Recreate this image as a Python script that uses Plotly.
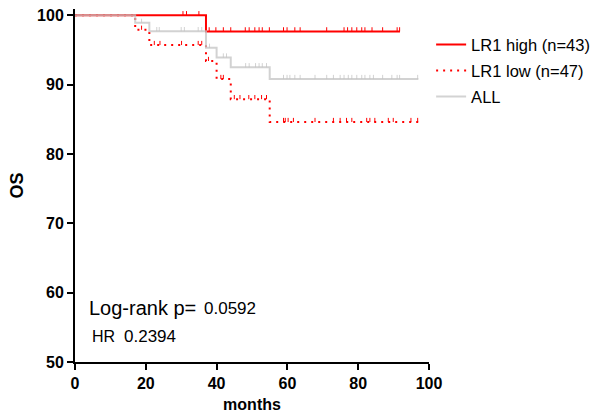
import numpy as np
import plotly.graph_objects as go

# ---- data ----
high_t = [0, 37, 91.8]
high_s = [100, 97.67, 97.67]
high_cens = [30.5, 31.5, 35, 37.9, 39.8, 41.9, 44.0, 48.1, 49.2, 50.8, 52.0, 52.9,
             54.9, 58.9, 59.9, 62.1, 63.6, 71.1, 76.0, 77.0, 78.2, 79.6, 81.0, 81.9,
             83.9, 86.9, 91.0, 91.7]

low_t = [0, 17, 21, 37, 40, 44, 55, 97]
low_s = [100, 97.9, 95.7, 93.4, 90.8, 87.9, 84.6, 84.6]
low_cens = [18.8, 22.4, 24.0, 30.1, 34.8, 35.8, 37.7, 41.2, 41.9, 45.0, 46.6, 49.1,
            50.8, 52.7, 54.1, 58.9, 59.4, 60.2, 61.7, 67.8, 73.0, 74.9, 76.7, 78.2,
            82.4, 83.3, 84.7, 88.5, 89.9, 94.9, 96.8]

all_t = [0, 17, 21, 37, 40, 44, 55, 97]
all_s = [100, 98.9, 97.7, 95.3, 93.9, 92.5, 90.8, 90.8]
all_cens = [18.8, 23.1, 23.8, 30.0, 30.9, 34.8, 35.8, 38.0, 41.9, 42.8, 48.2, 49.2,
            51.0, 52.0, 52.9, 54.1, 58.9, 59.9, 60.7, 62.1, 63.6, 67.8, 71.1, 73.0,
            74.9, 76.0, 77.2, 78.2, 79.6, 81.0, 81.9, 83.3, 84.3, 86.9, 89.5, 91.0,
            91.7, 96.8]

names = ["LR1 high (n=43)", "LR1 low (n=47)", "ALL"]
x_ticks = [0, 20, 40, 60, 80, 100]
y_ticks = [50, 60, 70, 80, 90, 100]

RED = "#ff0000"
GRAY = "#c4c4c4"
FONT = "Liberation Sans"


def step_value(t, s, q):
    idx = np.searchsorted(np.asarray(t), np.asarray(q), side="right") - 1
    return np.asarray(s)[idx]


fig = go.Figure()

series = [
    (names[0], high_t, high_s, high_cens, RED, "solid", 1.0),
    (names[1], low_t, low_s, low_cens, RED, "2px,5px", 1.0),
    (names[2], all_t, all_s, all_cens, GRAY, "solid", 0.75),
]

for i, (name, t, s, cens, color, dash, op) in enumerate(series):
    fig.add_trace(go.Scatter(
        x=t, y=s, mode="lines", name=name, legendgroup=f"g{i}",
        line=dict(color=color, width=2, dash=dash, shape="hv"),
        opacity=op,
    ))
    cy = step_value(t, s, cens)
    fig.add_trace(go.Scatter(
        x=cens, y=cy, mode="markers", showlegend=False, hoverinfo="skip",
        legendgroup=f"g{i}",
        marker=dict(size=2, color=color, opacity=0),
        error_y=dict(type="constant", value=0.6, valueminus=0, symmetric=False,
                     width=0, thickness=1, color=color),
        opacity=op,
    ))

fig.update_layout(
    width=604, height=418,
    margin=dict(l=75, r=175, t=9, b=56, autoexpand=False),
    plot_bgcolor="white", paper_bgcolor="white",
    font=dict(family=FONT, color="black"),
    legend=dict(x=1.006, y=0.948, xanchor="left", yanchor="top",
                font=dict(family=FONT, size=16.5, color="black"),
                tracegroupgap=1.5, traceorder="grouped",
                bgcolor="rgba(0,0,0,0)"),
    xaxis=dict(range=[0, 100], tickvals=x_ticks, ticks="outside", ticklen=6,
               tickwidth=2, tickcolor="black", showline=True, linewidth=2,
               linecolor="black", showgrid=False, zeroline=False, automargin=False,
               tickfont=dict(family=FONT, size=16, weight="bold"),
               title=dict(text="months", font=dict(family=FONT, size=16, weight="bold"),
                          standoff=8)),
    yaxis=dict(range=[50, 100.9], tickvals=y_ticks, ticks="outside", ticklen=6,
               tickwidth=2, tickcolor="black", showline=True, linewidth=2,
               linecolor="black", showgrid=False, zeroline=False, automargin=False,
               tickfont=dict(family=FONT, size=16, weight="bold"),
               title=dict(text="OS", font=dict(family=FONT, size=18, weight="bold"),
                          standoff=9)),
    showlegend=True,
)

fig.add_annotation(x=3.5, y=57.8, xref="x", yref="y", text="Log-rank p=",
                   showarrow=False, xanchor="left", yanchor="middle",
                   font=dict(family=FONT, size=20, color="black"))
fig.add_annotation(x=36.0, y=57.65, xref="x", yref="y", text="0.0592",
                   showarrow=False, xanchor="left", yanchor="middle",
                   font=dict(family=FONT, size=17, color="black"))
fig.add_annotation(x=4.3, y=53.65, xref="x", yref="y", text="HR",
                   showarrow=False, xanchor="left", yanchor="middle",
                   font=dict(family=FONT, size=16, color="black"))
fig.add_annotation(x=13.4, y=53.7, xref="x", yref="y", text="0.2394",
                   showarrow=False, xanchor="left", yanchor="middle",
                   font=dict(family=FONT, size=17, color="black"))

fig.write_html("out.html")
